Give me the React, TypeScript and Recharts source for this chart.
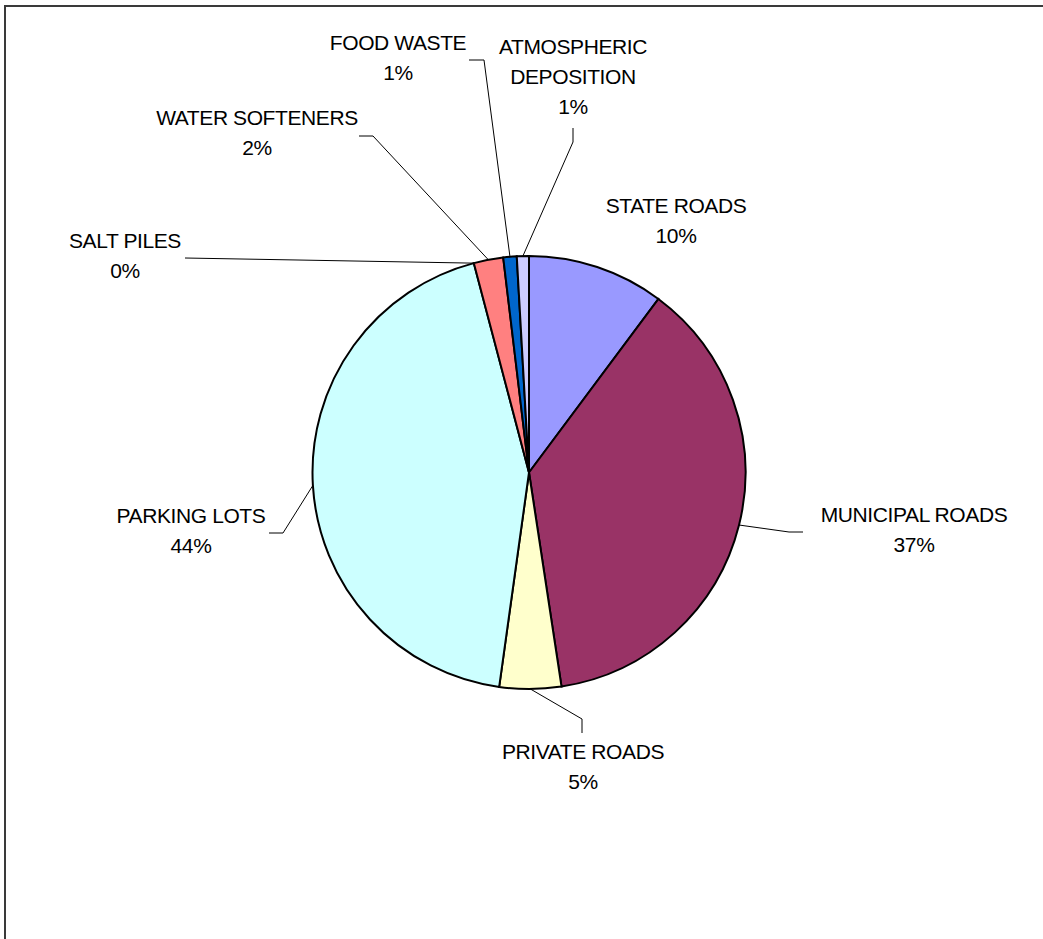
import { PieChart, Pie, Cell } from 'recharts';

const sources = [
  'STATE ROADS',
  'MUNICIPAL ROADS',
  'PRIVATE ROADS',
  'PARKING LOTS',
  'SALT PILES',
  'WATER SOFTENERS',
  'FOOD WASTE',
  'ATMOSPHERIC DEPOSITION',
];
const shares = [10.2, 37.4, 4.6, 43.7, 0, 2.2, 1.0, 0.9];
const colors = ['#9999FF', '#993366', '#FFFFCC', '#CCFFFF', '#660066', '#FF8080', '#0066CC', '#CCCCFF'];

// manual label placement (text centre x, first line centre y) and leader elbows, like the original sheet
const labelLayout: { x: number; y: number; lines: string[]; leader: [number, number][] }[] = [
  { x: 676, y: 206, lines: ['STATE ROADS'], leader: [] },
  { x: 914, y: 515, lines: ['MUNICIPAL ROADS'], leader: [[789, 532], [803, 532]] },
  { x: 583, y: 752, lines: ['PRIVATE ROADS'], leader: [[582, 719], [582, 733]] },
  { x: 191, y: 516, lines: ['PARKING LOTS'], leader: [[283, 533], [269, 533]] },
  { x: 125, y: 241, lines: ['SALT PILES'], leader: [[185, 258]] },
  { x: 257, y: 118, lines: ['WATER SOFTENERS'], leader: [[373, 136], [359, 136]] },
  { x: 398, y: 43, lines: ['FOOD WASTE'], leader: [[484, 60], [469, 60]] },
  { x: 573, y: 47, lines: ['ATMOSPHERIC', 'DEPOSITION'], leader: [[573, 142], [573, 128]] },
];

const data = sources.map((name, i) => ({ name, value: shares[i] }));

const RADIAN = Math.PI / 180;
const LINE_GAP = 30;

const renderLabel = (props: any) => {
  const { cx, cy, midAngle, outerRadius, percent, index } = props;
  const layout = labelLayout[index];
  const sx = cx + outerRadius * Math.cos(-midAngle * RADIAN);
  const sy = cy + outerRadius * Math.sin(-midAngle * RADIAN);
  const lines = [...layout.lines, `${Math.round(percent * 100)}%`];
  const pts = [[sx, sy], ...layout.leader];
  return (
    <g key={`lbl-${index}`}>
      {layout.leader.length > 0 && (
        <polyline
          points={pts.map((p) => p.join(',')).join(' ')}
          fill="none"
          stroke="#000"
          strokeWidth={1}
        />
      )}
      {lines.map((t, j) => (
        <text
          key={j}
          x={layout.x}
          y={layout.y + j * LINE_GAP + 7}
          textAnchor="middle"
          fill="#000"
          fontSize={21}
          letterSpacing={-0.4}
          fontFamily="'Liberation Sans', Arial, sans-serif"
        >
          {t}
        </text>
      ))}
    </g>
  );
};

export default function App() {
  return (
    <div style={{ position: 'relative', width: 1043, height: 939, overflow: 'hidden', background: '#fff' }}>
      <style>{'body{margin:0}'}</style>
      <div
        style={{
          position: 'absolute',
          left: 4,
          top: 5,
          width: 1200,
          height: 1200,
          border: '2px solid #3a3a3a',
          boxSizing: 'border-box',
        }}
      />
      <div style={{ position: 'absolute', left: 0, top: 0 }}>
        <PieChart width={1043} height={939} margin={{ top: 0, right: 0, bottom: 0, left: 0 }}>
          <Pie
            data={data}
            dataKey="value"
            nameKey="name"
            cx={529}
            cy={472.5}
            outerRadius={216.5}
            startAngle={90}
            endAngle={-270}
            stroke="#000"
            strokeWidth={2}
            label={renderLabel}
            labelLine={false}
            isAnimationActive={false}
          >
            {data.map((d, i) => (
              <Cell key={d.name} fill={colors[i]} />
            ))}
          </Pie>
        </PieChart>
      </div>
    </div>
  );
}
